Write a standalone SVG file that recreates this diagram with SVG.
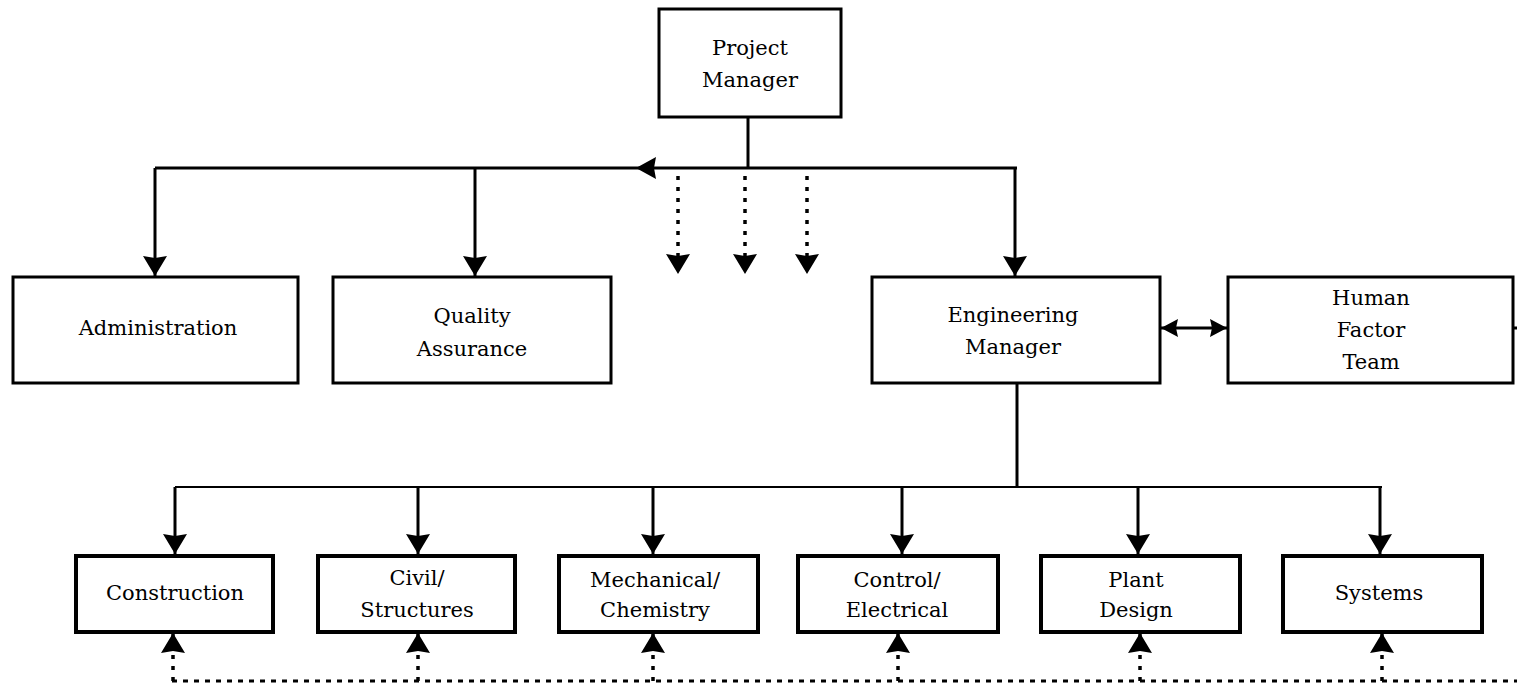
<svg xmlns="http://www.w3.org/2000/svg" width="1517" height="685" viewBox="0 0 1517 685">
<defs>
<style>
.box{fill:#fff;stroke:#000;stroke-width:3}
.sbox{fill:#fff;stroke:#000;stroke-width:4}
.t{font-family:"DejaVu Serif","Liberation Serif",serif;font-size:21px;fill:#000;text-anchor:middle}
.ln{fill:none;stroke:#000;stroke-width:3}
.thin{fill:none;stroke:#000;stroke-width:2}
.dot{fill:none;stroke:#000;stroke-width:3.5;stroke-dasharray:4 7}
.dash{fill:none;stroke:#000;stroke-width:3;stroke-dasharray:5 6}
</style>
<marker id="ah" markerUnits="userSpaceOnUse" markerWidth="22" markerHeight="26" refX="20" refY="12" orient="auto">
<path d="M0,0 L20,12 L0,24 L2,12 z" fill="#000"/>
</marker>
<marker id="ahs" markerUnits="userSpaceOnUse" markerWidth="20" markerHeight="20" refX="17" refY="9" orient="auto-start-reverse">
<path d="M0,0 L17,9 L0,18 L2,9 z" fill="#000"/>
</marker>
</defs>
<rect width="1517" height="685" fill="#fff"/>
<g id="connectors">
<path class="ln" d="M748,118 V168"/>
<path class="ln" d="M155,168 H1017"/>
<path d="M636,168 L656,157 L654,168 L656,179 z" fill="#000"/>
<path class="ln" d="M155,168 V276" marker-end="url(#ah)"/>
<path class="ln" d="M475,168 V276" marker-end="url(#ah)"/>
<path class="ln" d="M1015,168 V276" marker-end="url(#ah)"/>
<path class="dot" d="M678,176 V274" marker-end="url(#ah)"/>
<path class="dot" d="M745,176 V274" marker-end="url(#ah)"/>
<path class="dot" d="M807,176 V274" marker-end="url(#ah)"/>
<path class="ln" d="M1161,328 H1227" marker-start="url(#ahs)" marker-end="url(#ahs)"/>
<path class="ln" d="M1514,328 H1517"/>
<path class="ln" d="M1017,383 V487"/>
<path class="thin" d="M175,487 H1382"/>
<path class="ln" d="M175,487 V554" marker-end="url(#ah)"/>
<path class="ln" d="M418,487 V554" marker-end="url(#ah)"/>
<path class="ln" d="M653,487 V554" marker-end="url(#ah)"/>
<path class="ln" d="M902,487 V554" marker-end="url(#ah)"/>
<path class="ln" d="M1138,487 V554" marker-end="url(#ah)"/>
<path class="ln" d="M1380,487 V554" marker-end="url(#ah)"/>
<path class="dash" d="M172,681 H1517"/>
<path class="dot" d="M173,681 V633" marker-end="url(#ah)"/>
<path class="dot" d="M418,681 V633" marker-end="url(#ah)"/>
<path class="dot" d="M653,681 V633" marker-end="url(#ah)"/>
<path class="dot" d="M898,681 V633" marker-end="url(#ah)"/>
<path class="dot" d="M1140,681 V633" marker-end="url(#ah)"/>
<path class="dot" d="M1382,681 V633" marker-end="url(#ah)"/>
</g>
<g id="project-manager">
<rect class="box" x="659" y="9" width="182" height="108"/>
<text class="t" x="750" y="55">Project</text>
<text class="t" x="750" y="87">Manager</text>
</g>
<g id="administration">
<rect class="box" x="13" y="277" width="285" height="106"/>
<text class="t" x="158" y="335">Administration</text>
</g>
<g id="quality-assurance">
<rect class="box" x="333" y="277" width="278" height="106"/>
<text class="t" x="472" y="323">Quality</text>
<text class="t" x="472" y="356">Assurance</text>
</g>
<g id="engineering-manager">
<rect class="box" x="872" y="277" width="288" height="106"/>
<text class="t" x="1013" y="322">Engineering</text>
<text class="t" x="1013" y="354">Manager</text>
</g>
<g id="human-factor-team">
<rect class="box" x="1228" y="277" width="285" height="106"/>
<text class="t" x="1371" y="305">Human</text>
<text class="t" x="1371" y="337">Factor</text>
<text class="t" x="1371" y="369">Team</text>
</g>
<g id="construction">
<rect class="sbox" x="76" y="556" width="197" height="76"/>
<text class="t" x="175" y="600">Construction</text>
</g>
<g id="civil-structures">
<rect class="sbox" x="318" y="556" width="197" height="76"/>
<text class="t" x="417" y="585">Civil/</text>
<text class="t" x="417" y="617">Structures</text>
</g>
<g id="mechanical-chemistry">
<rect class="sbox" x="559" y="556" width="199" height="76"/>
<text class="t" x="655" y="587">Mechanical/</text>
<text class="t" x="655" y="617">Chemistry</text>
</g>
<g id="control-electrical">
<rect class="sbox" x="798" y="556" width="200" height="76"/>
<text class="t" x="897" y="587">Control/</text>
<text class="t" x="897" y="617">Electrical</text>
</g>
<g id="plant-design">
<rect class="sbox" x="1041" y="556" width="199" height="76"/>
<text class="t" x="1136" y="587">Plant</text>
<text class="t" x="1136" y="617">Design</text>
</g>
<g id="systems">
<rect class="sbox" x="1283" y="556" width="199" height="76"/>
<text class="t" x="1379" y="600">Systems</text>
</g>
</svg>
